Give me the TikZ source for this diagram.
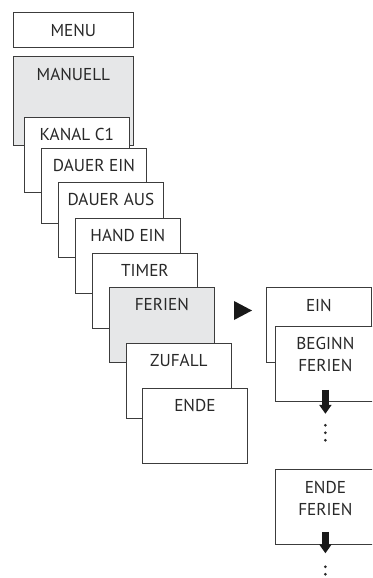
\documentclass[tikz,border=0pt]{standalone}
\usepackage{fontspec}
\setmainfont{PT Sans}
\usetikzlibrary{arrows.meta}
\definecolor{box-gray}{RGB}{230, 231, 232}
\definecolor{box-line}{RGB}{60, 60, 60}
\definecolor{text-dark}{RGB}{40, 40, 40}

\begin{document}
\begin{tikzpicture}[x=1pt, y=-1pt,
        menubox/.style={draw=box-line, fill=white, line width=0.8pt, minimum width=105pt, minimum height=75pt, anchor=north west, inner sep=0pt},
        shaded/.style={fill=box-gray},
        boxtext/.style={anchor=north, inner sep=0pt, align=center, text=text-dark, font=\fontsize{17.2}{22}\selectfont},
        downarrow/.style={line width=6.5pt, draw=black!90, -{Triangle[width=12pt, length=9pt]}}]
                \clip (0, 0) rectangle (372, 578);
                % left column
                \node[menubox, minimum width=120pt, minimum height=35pt] (menu) at (13, 12) {};
                \node[boxtext] (menu-text) at ([yshift=-12.5pt]menu.north) {MENU};
                \node[menubox, shaded, minimum width=120pt, minimum height=89pt] (manuell) at (13, 56) {};
                \node[boxtext] (manuell-text) at ([yshift=-12pt]manuell.north) {MANUELL};
                \node[menubox] (kanal) at (24, 117) {};
                \node[boxtext] (kanal-text) at ([yshift=-11.5pt]kanal.north) {KANAL C1};
                \node[menubox] (dauer-ein) at (41, 148) {};
                \node[boxtext] (dauer-ein-text) at ([yshift=-11.5pt]dauer-ein.north) {DAUER EIN};
                \node[menubox] (dauer-aus) at (58, 182) {};
                \node[boxtext] (dauer-aus-text) at ([yshift=-11.5pt]dauer-aus.north) {DAUER AUS};
                \node[menubox] (hand-ein) at (75, 218) {};
                \node[boxtext] (hand-ein-text) at ([yshift=-11.5pt]hand-ein.north) {HAND EIN};
                \node[menubox] (timer) at (92, 253) {};
                \node[boxtext] (timer-text) at ([yshift=-11.5pt]timer.north) {TIMER};
                \node[menubox, shaded] (ferien) at (109, 287) {};
                \node[boxtext] (ferien-text) at ([yshift=-11.5pt]ferien.north) {FERIEN};
                \node[menubox] (zufall) at (126, 343) {};
                \node[boxtext] (zufall-text) at ([yshift=-11.5pt]zufall.north) {ZUFALL};
                \node[menubox] (ende) at (142, 388) {};
                \node[boxtext] (ende-text) at ([yshift=-11.5pt]ende.north) {ENDE};
                % pointer to the submenu
                \fill[black!90] (234, 301) -- (252, 310.5) -- (234, 320) -- cycle;
                % right column
                \node[menubox] (ein) at (266, 287) {};
                \node[boxtext] (ein-text) at ([yshift=-12.5pt]ein.north) {EIN};
                \node[menubox, minimum width=100pt] (beginn) at (275, 326) {};
                \node[boxtext] (beginn-text) at ([yshift=-11.5pt]beginn.north) {BEGINN\\FERIEN};
                \coordinate (beginn-end) at ([yshift=-12pt]beginn.south);
                \draw[downarrow] ([yshift=12pt]beginn.south) -- (beginn-end);
                \coordinate (beginn-dots) at ([yshift=-11.5pt]beginn-end);
                \foreach \d in {0, 7.5, 15}
                    \fill[text-dark] ([yshift=-\d pt]beginn-dots) circle (1.5pt);
                \node[menubox, minimum width=100pt] (ende-ferien) at (275, 469) {};
                \node[boxtext] (ende-ferien-text) at ([yshift=-12pt]ende-ferien.north) {ENDE\\FERIEN};
                \coordinate (ende-ferien-end) at ([yshift=-8.5pt]ende-ferien.south);
                \draw[downarrow] ([yshift=13pt]ende-ferien.south) -- (ende-ferien-end);
                \coordinate (ende-ferien-dots) at ([yshift=-13.5pt]ende-ferien-end);
                \foreach \d in {0, 7.5, 15}
                    \fill[text-dark] ([yshift=-\d pt]ende-ferien-dots) circle (1.5pt);
            \end{tikzpicture}
\end{document}
